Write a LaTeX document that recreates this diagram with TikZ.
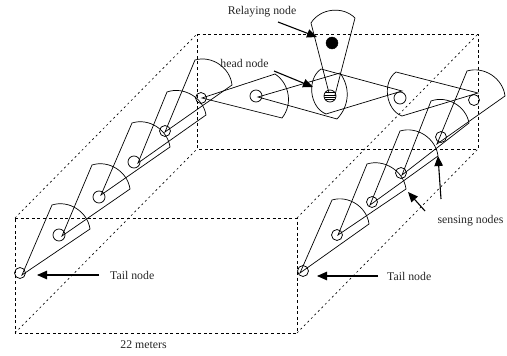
\documentclass[tikz,border=0pt]{standalone}
\usepackage{fontspec}
\setmainfont{Liberation Serif}
\usetikzlibrary{arrows.meta}
\tikzset{
  wsn/.style={draw=black,line width=0.7pt,line join=miter},
  sens/.style={draw=black,line width=0.75pt,circle,inner sep=0pt,minimum size=#1},
  sens/.default=12pt,
  boxa/.style={draw=black,line width=0.75pt,dash pattern=on 3pt off 2.6pt},
  boxb/.style={draw=black,line width=0.65pt,dash pattern=on 2pt off 3pt},
  point/.style={draw=black,line width=1.1pt,-{Triangle[length=10pt,width=8.5pt]},shorten >=0pt},
  lbl/.style={font=\fontsize{11.8}{13}\selectfont,inner sep=0pt,text=black!85}
}
\newcommand{\sect}[4]{\draw[wsn] (#1) -- (#2) to[bend left=#4] (#3) -- cycle;}
\begin{document}
\begin{tikzpicture}[x=1pt,y=-1pt]
\useasboundingbox (0,0) rectangle (507,356);
% box corners
\coordinate (ftl) at (15,218);
\coordinate (ftr) at (297,218);
\coordinate (fbl) at (15,333);
\coordinate (fbr) at (297,333);
\coordinate (btl) at (197,34);
\coordinate (btr) at (478,34);
\coordinate (bbl) at (197,149);
\coordinate (bbr) at (478,149);
\draw[boxa] (ftl) -- (ftr) -- (fbr) -- (fbl) -- cycle;
\draw[boxa] (btl) -- (btr) -- (bbr) -- (bbl) -- cycle;
\draw[boxb] (ftl) -- (btl);
\draw[boxb] (ftr) -- (btr);
\draw[boxb] (fbl) -- (bbl);
\draw[boxb] (fbr) -- (bbr);
% left chain
\coordinate (a1) at (22,275); \coordinate (b1) at (52,205); \coordinate (c1) at (90,229);
\coordinate (a2) at (62,236); \coordinate (b2) at (92,165); \coordinate (c2) at (130,189);
\coordinate (a3) at (101,195); \coordinate (b3) at (132,123); \coordinate (c3) at (170,147);
\coordinate (a4) at (138,163); \coordinate (b4) at (167,92); \coordinate (c4) at (206,115);
\coordinate (a5) at (165,132); \coordinate (b5) at (195,60); \coordinate (c5) at (232,85);
\sect{a1}{b1}{c1}{50}
\sect{a2}{b2}{c2}{50}
\sect{a3}{b3}{c3}{50}
\sect{a4}{b4}{c4}{50}
\sect{a5}{b5}{c5}{50}
\node[sens=11pt] (n1) at (20,273) {};
\node[sens] (n2) at (59,235) {};
\node[sens] (n3) at (99,197) {};
\node[sens] (n4) at (134,162) {};
\node[sens=11pt] (n5) at (165,131) {};
\node[sens=11pt] (n6) at (201,98) {};
% middle sectors
\coordinate (a6) at (202,98); \coordinate (b6) at (275,74); \coordinate (c6) at (282,118);
\coordinate (a7) at (258,97); \coordinate (b7) at (340,73); \coordinate (c7) at (337,119);
\coordinate (a8) at (402,91); \coordinate (b8) at (321,69); \coordinate (c8) at (326,114);
\sect{a6}{b6}{c6}{48}
\sect{a7}{b7}{c7}{40}
\draw[wsn] (a8) -- (b8) to[bend right=62] (c8) -- cycle;
\node[sens] (n7) at (256,96) {};
\node[sens] (n9) at (400,98) {};
% relaying sector
\coordinate (r1) at (329,93); \coordinate (r2) at (335,95);
\coordinate (r3) at (311,23); \coordinate (r4) at (355,18);
\draw[wsn] (r1) -- (r3) to[bend left=52] (r4) -- (r2);
\node[draw=black,fill=black,circle,inner sep=0pt,minimum size=12pt] (relay) at (332,43) {};
\node[sens,path picture={
  \foreach \d in {-3.6,-1.2,1.2,3.6}
    \draw[line width=0.6pt] ([yshift=\d pt]path picture bounding box.west) -- ([yshift=\d pt]path picture bounding box.east);
}] (head) at (330,96) {};
% right chain
\coordinate (d1) at (300,273); \coordinate (e1) at (332,200); \coordinate (f1) at (369,224);
\coordinate (d2) at (338,235); \coordinate (e2) at (367,164); \coordinate (f2) at (406,189);
\coordinate (d3) at (370,205); \coordinate (e3) at (400,131); \coordinate (f3) at (438,156);
\coordinate (d4) at (402,175); \coordinate (e4) at (431,101); \coordinate (f4) at (469,123);
\coordinate (d5) at (437,144); \coordinate (e5) at (467,71); \coordinate (f5) at (505,96);
\coordinate (d6) at (478,93); \coordinate (e6) at (396,72); \coordinate (f6) at (402,116);
\sect{d1}{e1}{f1}{50}
\sect{d2}{e2}{f2}{50}
\sect{d3}{e3}{f3}{50}
\sect{d4}{e4}{f4}{50}
\sect{d5}{e5}{f5}{50}
\draw[wsn] (d6) -- (e6) to[bend right=62] (f6) -- cycle;
\node[sens=11pt] (m1) at (303,271) {};
\node[sens=11pt] (m2) at (337,235) {};
\node[sens=11pt] (m3) at (372,202) {};
\node[sens=11pt] (m4) at (401,173) {};
\node[sens=11pt] (m5) at (441,137) {};
\node[sens=11pt] (m6) at (474,100) {};
% labels
\node[lbl] (relayl) at (262,12) {Relaying node};
\node[lbl] (headl) at (244.5,63) {head node};
\node[lbl,anchor=west] (tail1) at (110,275.5) {Tail node};
\node[lbl,anchor=west] (tail2) at (387,276) {Tail node};
\node[lbl] (sensl) at (470.5,221) {sensing nodes};
\node[lbl] (meters) at (143.5,345) {22 meters};
% arrows
\coordinate (p1s) at (278,22); \coordinate (p1e) at (317,37);
\coordinate (p2s) at (274,71); \coordinate (p2e) at (313,87);
\coordinate (p3s) at (99,275); \coordinate (p3e) at (37,275);
\coordinate (p4s) at (378,276); \coordinate (p4e) at (317,276);
\coordinate (p5s) at (425,211); \coordinate (p5e) at (408,192);
\coordinate (p6s) at (441,199); \coordinate (p6e) at (438,156);
\draw[point] (p1s) -- (p1e);
\draw[point] (p2s) -- (p2e);
\draw[point] (p3s) -- (p3e);
\draw[point] (p4s) -- (p4e);
\draw[point] (p5s) -- (p5e);
\draw[point] (p6s) -- (p6e);
\end{tikzpicture}
\end{document}
